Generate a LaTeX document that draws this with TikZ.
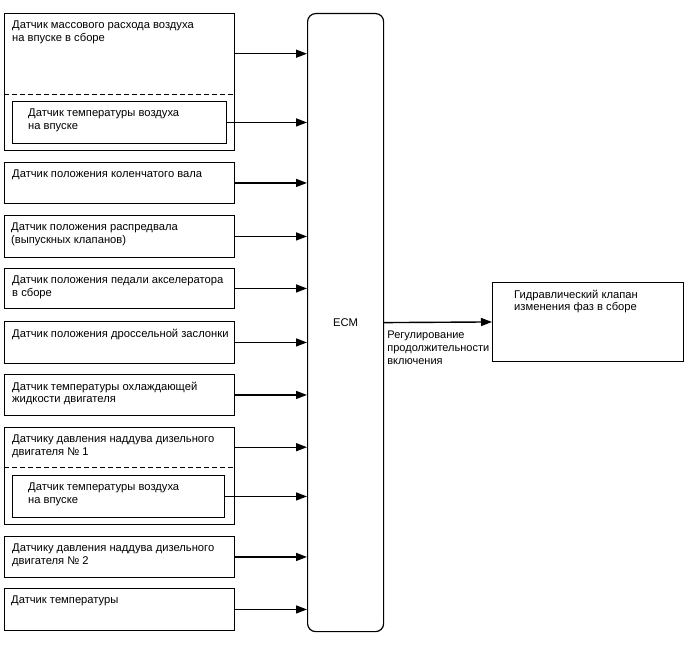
\documentclass[tikz,border=0pt]{standalone}
\usepackage{fontspec}
\setmainfont{Liberation Sans}
\usetikzlibrary{arrows.meta, positioning, calc}

\begin{document}
\begin{tikzpicture}[
  x=1pt, y=-1pt,
  sbox/.style={draw, line width=0.9pt, anchor=north west, minimum width=230pt, inner sep=0pt},
  ibox/.style={draw, line width=0.9pt, anchor=north west, inner sep=0pt},
  hbox/.style={anchor=north west, minimum width=230pt, inner sep=0pt},
  stext/.style={anchor=north west, inner sep=0pt, align=left, font=\fontsize{11.2}{12.3}\selectfont},
  sig/.style={line width=1.4pt, -{Triangle[length=11pt, width=8pt]}}
]
  \useasboundingbox (0,0) rectangle (688,658);

  % ECM
  \node[draw, line width=1.2pt, rounded corners=8pt, anchor=north west, minimum width=76pt, minimum height=618pt, inner sep=0pt] (ecm) at (307,13) {};
  \node[font=\fontsize{11.2}{12.3}\selectfont] (ecmtext) at (ecm.center) {ECM};

  % MAF sensor with intake air temperature sensor
  \node[hbox, minimum height=81pt] (maf) at (4,13) {};
  \coordinate (mafend) at (234,150);
  \draw[line width=0.9pt] (maf.north west) rectangle (mafend);
  \draw[line width=0.9pt, dash pattern=on 5pt off 3pt] (maf.south west) -- (maf.south east);
  \node[stext] at ([shift={(8pt,-8pt)}]maf.north west) {Датчик массового расхода воздуха\\на впуске в сборе};
  \node[ibox, minimum width=214pt, minimum height=42pt] (iat1) at (12,101) {};
  \node[stext] at ([shift={(16pt,-8pt)}]iat1.north west) {Датчик температуры воздуха\\на впуске};

  % single sensors
  \node[sbox, minimum height=41pt] (ckp) at (4,162) {};
  \node[stext] at ([shift={(8pt,-8pt)}]ckp.north west) {Датчик положения коленчатого вала};
  \node[sbox, minimum height=42pt] (cmp) at (4,215) {};
  \node[stext] at ([shift={(7pt,-8pt)}]cmp.north west) {Датчик положения распредвала\\(выпускных клапанов)};
  \node[sbox, minimum height=40pt] (app) at (4,268) {};
  \node[stext] at ([shift={(8pt,-8pt)}]app.north west) {Датчик положения педали акселератора\\в сборе};
  \node[sbox, minimum height=42pt] (tps) at (4,321) {};
  \node[stext] at ([shift={(8pt,-8pt)}]tps.north west) {Датчик положения дроссельной заслонки};
  \node[sbox, minimum height=41pt] (ect) at (4,374) {};
  \node[stext] at ([shift={(8pt,-8pt)}]ect.north west) {Датчик температуры охлаждающей\\жидкости двигателя};

  % boost pressure sensor 1 with intake air temperature sensor
  \node[hbox, minimum height=40pt] (bps1) at (4,427) {};
  \coordinate (bps1end) at (234,524);
  \draw[line width=0.9pt] (bps1.north west) rectangle (bps1end);
  \draw[line width=0.9pt, dash pattern=on 5pt off 3pt] (bps1.south west) -- (bps1.south east);
  \node[stext] at ([shift={(8pt,-8pt)}]bps1.north west) {Датчику давления наддува дизельного\\двигателя № 1};
  \node[ibox, minimum width=212pt, minimum height=42pt] (iat2) at (12,475) {};
  \node[stext] at ([shift={(16pt,-8pt)}]iat2.north west) {Датчик температуры воздуха\\на впуске};

  \node[sbox, minimum height=41pt] (bps2) at (4,536) {};
  \node[stext] at ([shift={(8pt,-8pt)}]bps2.north west) {Датчику давления наддува дизельного\\двигателя № 2};
  \node[sbox, minimum height=42pt] (tmp) at (4,588) {};
  \node[stext] at ([shift={(7pt,-8pt)}]tmp.north west) {Датчик температуры};

  % actuator
  \node[draw, line width=0.9pt, anchor=north west, minimum width=191pt, minimum height=79pt, inner sep=0pt] (ocv) at (492,282) {};
  \node[stext] at ([shift={(22pt,-8pt)}]ocv.north west) {Гидравлический клапан\\изменения фаз в сборе};

  % signals
  \foreach \s in {maf, iat1, ckp, cmp, app, tps, ect, bps1, iat2, bps2, tmp}
    \draw[sig] (\s.east) -- (\s.east -| ecm.west);
  \draw[sig] (ecm.east) -- (ocv.west);
  \node[stext, font=\fontsize{11}{13}\selectfont] (duty) at ([shift={(3pt,-8pt)}]ecm.east) {Регулирование\\продолжительности\\включения};
\end{tikzpicture}
\end{document}
